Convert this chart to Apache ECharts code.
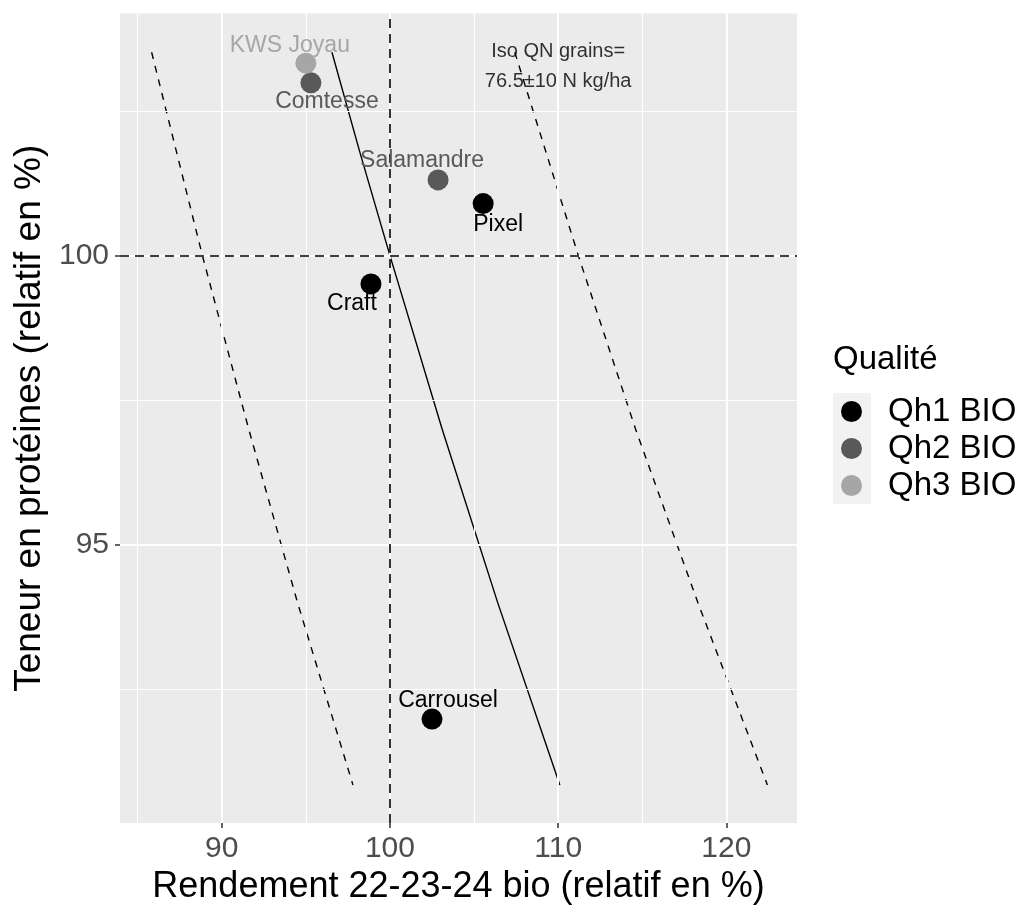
<!DOCTYPE html>
<html>
<head>
<meta charset="utf-8">
<script src="https://cdn.jsdelivr.net/npm/echarts@6/dist/echarts.min.js"></script>
<style>
html,body{margin:0;padding:0;background:#fff;}
#chart{width:1024px;height:910px;}
</style>
</head>
<body>
<div id="chart"></div>
<script>
// ---- data ----
const varieties = ['KWS Joyau', 'Comtesse', 'Salamandre', 'Pixel', 'Craft', 'Carrousel'];
const yieldRel = [95.0, 95.3, 102.86, 105.54, 98.87, 102.5];
const proteinRel = [103.33, 102.99, 101.31, 100.9, 99.51, 91.98];
const quality = ['Qh3 BIO', 'Qh2 BIO', 'Qh2 BIO', 'Qh1 BIO', 'Qh1 BIO', 'Qh1 BIO'];
const qualityLevels = ['Qh1 BIO', 'Qh2 BIO', 'Qh3 BIO'];

// iso-nitrogen curves (yield, protein)
const isoCentralX = [96.55, 98.2, 100.0, 103.1, 106.4, 110.1];
const isoCentralY = [103.52, 101.8, 100.0, 97.0, 94.0, 90.84];
const isoLowX = [85.83, 88.85, 91.6, 94.5, 97.8];
const isoLowY = [103.52, 100.0, 97.0, 94.0, 90.84];
const isoHighX = [107.42, 111.2, 114.6, 118.3, 122.44];
const isoHighY = [103.52, 100.0, 97.0, 94.0, 90.84];

const refX = [100];
const refY = [100];

const xTicks = [90, 100, 110, 120];
const yTicks = [95, 100];
const xMinor = [85, 95, 105, 115];
const yMinor = [92.5, 97.5, 102.5];

const annotationLines = ['Iso QN grains=', '76.5±10 N kg/ha'];
const annotationAt = [110, 103.28];

// ---- styles ----
const FONT = 'Liberation Sans, Arial, sans-serif';
const qualityColors = {'Qh1 BIO': '#000000', 'Qh2 BIO': '#595959', 'Qh3 BIO': '#A6A6A6'};
const labelOffsets = {
  'KWS Joyau': [-16, -18],
  'Comtesse': [16, 19],
  'Salamandre': [-16, -19],
  'Pixel': [15, 21],
  'Craft': [-19, 20],
  'Carrousel': [16, -18]
};

const chart = echarts.init(document.getElementById('chart'), null, {renderer: 'canvas'});

function zip(xs, ys) { return xs.map((x, i) => [x, ys[i]]); }

const pointSeries = qualityLevels.map(q => ({
  name: q,
  type: 'scatter',
  z: 5,
  symbol: 'circle',
  symbolSize: 21,
  itemStyle: {color: qualityColors[q], opacity: 1},
  label: {show: true},
  emphasis: {disabled: true},
  data: varieties.map((v, i) => ({v, i})).filter(o => quality[o.i] === q).map(o => ({
    name: o.v,
    value: [yieldRel[o.i], proteinRel[o.i]],
    label: {
      show: true,
      position: 'inside',
      offset: labelOffsets[o.v],
      formatter: o.v,
      color: qualityColors[q],
      fontSize: 23,
      fontFamily: FONT
    }
  }))
}));

const gridLineSeries = {
  type: 'line',
  data: [],
  silent: true,
  z: 0,
  markLine: {
    silent: true,
    symbol: 'none',
    animation: false,
    label: {show: false},
    data: [
      ...xTicks.map(v => ({xAxis: v, lineStyle: {color: '#ffffff', width: 2, type: 'solid'}})),
      ...yTicks.map(v => ({yAxis: v, lineStyle: {color: '#ffffff', width: 2, type: 'solid'}})),
      ...xMinor.map(v => ({xAxis: v, lineStyle: {color: '#ffffff', width: 1, type: 'solid'}})),
      ...yMinor.map(v => ({yAxis: v, lineStyle: {color: '#ffffff', width: 1, type: 'solid'}}))
    ]
  }
};

const refSeries = {
  type: 'line',
  data: [],
  silent: true,
  z: 2,
  markLine: {
    silent: true,
    symbol: 'none',
    animation: false,
    label: {show: false},
    lineStyle: {color: '#000', width: 1.6, type: [9, 6]},
    data: [
      ...refX.map(v => ({xAxis: v})),
      ...refY.map(v => ({yAxis: v}))
    ]
  }
};

function curve(xs, ys, dashed) {
  return {
    type: 'line',
    data: zip(xs, ys),
    showSymbol: false,
    silent: true,
    z: 4,
    smooth: false,
    lineStyle: {color: '#000', width: 1.4, type: dashed ? [7, 7] : 'solid'},
    emphasis: {disabled: true}
  };
}

const annotationSeries = {
  type: 'scatter',
  z: 3,
  silent: true,
  symbolSize: 0,
  data: [{
    value: annotationAt,
    label: {
      show: true,
      position: 'inside',
      formatter: annotationLines.join('\n'),
      color: '#000',
      fontSize: 20,
      lineHeight: 30,
      fontFamily: FONT,
      align: 'center'
    }
  }]
};

chart.setOption({
  animation: false,
  backgroundColor: '#ffffff',
  textStyle: {fontFamily: FONT},
  title: {
    text: 'Qualité',
    left: 833,
    top: 343,
    textStyle: {fontSize: 33, fontWeight: 'normal', color: '#000', fontFamily: FONT},
    padding: 0
  },
  legend: {
    data: qualityLevels,
    orient: 'vertical',
    left: 841,
    top: 393,
    padding: 0,
    itemGap: 0,
    itemWidth: 21,
    itemHeight: 21,
    icon: 'circle',
    selectedMode: false,
    textStyle: {fontSize: 33, color: '#000', fontFamily: FONT, lineHeight: 37, padding: [0, 0, 0, 21]}
  },
  graphic: [{
    type: 'rect',
    z: -1,
    shape: {x: 833, y: 393, width: 38, height: 111},
    style: {fill: '#F2F2F2'}
  }],
  grid: {
    left: 120, right: 227, top: 13.5, bottom: 75.5,
    show: true, backgroundColor: '#EBEBEB', borderWidth: 0
  },
  xAxis: {
    type: 'value',
    min: 83.95,
    max: 124.2,
    name: 'Rendement 22-23-24 bio (relatif en %)',
    nameLocation: 'middle',
    nameGap: 38,
    nameTextStyle: {fontSize: 36, color: '#000', fontFamily: FONT},
    axisLine: {show: false},
    splitLine: {show: false},
    axisTick: {show: true, customValues: xTicks, length: 5, lineStyle: {color: '#333', width: 1.5}},
    axisLabel: {customValues: xTicks, fontSize: 30, color: '#4D4D4D', margin: 11, fontFamily: FONT}
  },
  yAxis: {
    type: 'value',
    min: 90.18,
    max: 104.19,
    name: 'Teneur en protéines (relatif en %)',
    nameLocation: 'middle',
    nameRotate: 90,
    nameGap: 72,
    nameTextStyle: {fontSize: 37, color: '#000', fontFamily: FONT},
    axisLine: {show: false},
    splitLine: {show: false},
    axisTick: {show: true, customValues: yTicks, length: 5, lineStyle: {color: '#333', width: 1.5}},
    axisLabel: {customValues: yTicks, fontSize: 30, color: '#4D4D4D', margin: 11, fontFamily: FONT}
  },
  series: [
    gridLineSeries,
    refSeries,
    annotationSeries,
    curve(isoLowX, isoLowY, true),
    curve(isoCentralX, isoCentralY, false),
    curve(isoHighX, isoHighY, true),
    ...pointSeries
  ]
});
</script>
</body>
</html>
